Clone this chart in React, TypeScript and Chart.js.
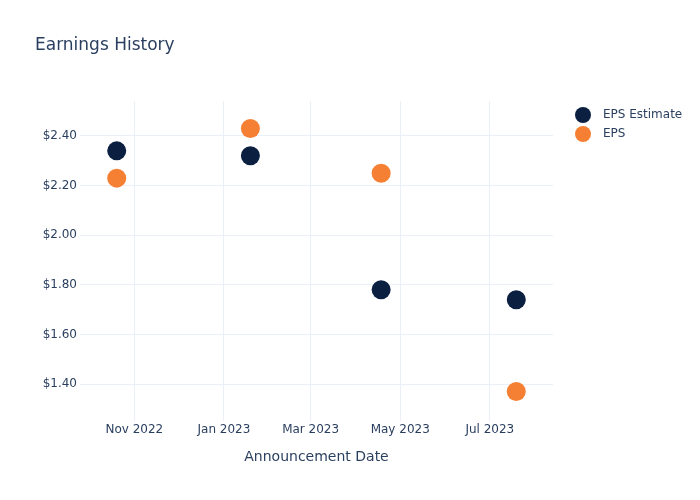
import React, { useEffect, useRef } from "react";
import { Chart, registerables } from "chart.js";

Chart.register(...registerables);

const announcementDates = ["2022-10-20", "2023-01-19", "2023-04-18", "2023-07-19"];
const epsEstimate = [2.34, 2.32, 1.78, 1.74];
const epsActual = [2.23, 2.43, 2.25, 1.37];
const seriesNames = ["EPS Estimate", "EPS"];
const seriesColors = ["#0b1f41", "#f58034"];
const xTickDates = ["2022-11-01", "2023-01-01", "2023-03-01", "2023-05-01", "2023-07-01"];
const yTickValues = [1.4, 1.6, 1.8, 2.0, 2.2, 2.4];
const xRange = ["2022-09-25", "2023-08-13"];
const yRange = [1.251, 2.541];
const monthNames = ["Jan", "Feb", "Mar", "Apr", "May", "Jun", "Jul", "Aug", "Sep", "Oct", "Nov", "Dec"];

const FONT = "DejaVu Sans";
const TEXT = "#2a3f5f";
const GRID = "#ebf0f8";

const toTs = (s: string) => {
  const [y, m, d] = s.split("-").map(Number);
  return Date.UTC(y, m - 1, d);
};

const legendPlugin = {
  id: "customLegend",
  afterDraw(chart: any) {
    const ctx = chart.ctx;
    ctx.save();
    chart.data.datasets.forEach((ds: any, i: number) => {
      const y = 115 + i * 19;
      ctx.beginPath();
      ctx.fillStyle = ds.backgroundColor;
      ctx.arc(583, y, 8, 0, Math.PI * 2);
      ctx.fill();
      ctx.fillStyle = TEXT;
      ctx.font = `12px "${FONT}"`;
      ctx.textBaseline = "middle";
      ctx.textAlign = "left";
      ctx.fillText(ds.label, 603, y);
    });
    ctx.restore();
  },
};

export default function App() {
  const ref = useRef<HTMLCanvasElement>(null);
  useEffect(() => {
    if (!ref.current) return;
    const mk = (vals: number[]) => announcementDates.map((d, i) => ({ x: toTs(d), y: vals[i] }));
    const chart = new Chart(ref.current, {
      type: "scatter",
      data: {
        datasets: [
          {
            label: seriesNames[0],
            data: mk(epsEstimate),
            backgroundColor: seriesColors[0],
            borderColor: seriesColors[0],
            pointRadius: 9.5,
            pointBorderWidth: 0,
          },
          {
            label: seriesNames[1],
            data: mk(epsActual),
            backgroundColor: seriesColors[1],
            borderColor: seriesColors[1],
            pointRadius: 9.5,
            pointBorderWidth: 0,
          },
        ],
      },
      options: {
        responsive: false,
        animation: false,
        devicePixelRatio: 1,
        layout: { padding: { left: 35, right: 147, top: 0, bottom: 0 } },
        plugins: {
          legend: { display: false },
          tooltip: { enabled: false },
          title: {
            display: true,
            text: "Earnings History",
            align: "start",
            color: TEXT,
            font: { family: FONT, size: 17, weight: "normal", lineHeight: 1.2 },
            padding: { top: 35, bottom: 45.6 },
          },
        },
        scales: {
          x: {
            type: "linear",
            min: toTs(xRange[0]),
            max: toTs(xRange[1]),
            afterBuildTicks: (scale: any) => {
              scale.ticks = xTickDates.map((d) => ({ value: toTs(d) }));
            },
            afterFit: (scale: any) => {
              scale.height = 79;
              scale.paddingLeft = 0;
              scale.paddingRight = 0;
            },
            ticks: {
              color: TEXT,
              font: { family: FONT, size: 12 },
              padding: 2,
              maxRotation: 0,
              autoSkip: false,
              callback: (v: any) => {
                const d = new Date(Number(v));
                return `${monthNames[d.getUTCMonth()]} ${d.getUTCFullYear()}`;
              },
            },
            grid: { color: GRID, drawTicks: false, lineWidth: 1 },
            border: { display: false },
            title: {
              display: true,
              text: "Announcement Date",
              color: TEXT,
              font: { family: FONT, size: 14, lineHeight: 1.2 },
              padding: { top: 0, bottom: 34.6 },
            },
          },
          y: {
            type: "linear",
            min: yRange[0],
            max: yRange[1],
            afterBuildTicks: (scale: any) => {
              scale.ticks = yTickValues.map((v) => ({ value: v }));
            },
            afterFit: (scale: any) => {
              scale.width = 45;
            },
            ticks: {
              color: TEXT,
              font: { family: FONT, size: 12 },
              padding: 3,
              callback: (v: any) => "$" + Number(v).toFixed(2),
            },
            grid: { color: GRID, drawTicks: false, lineWidth: 1 },
            border: { display: false },
          },
        },
      },
      plugins: [legendPlugin],
    } as any);
    return () => chart.destroy();
  }, []);
  return (
    <div style={{ position: "absolute", left: 0, top: 0, width: 700, height: 500, background: "#fff" }}>
      <canvas ref={ref} width={700} height={500} />
    </div>
  );
}
